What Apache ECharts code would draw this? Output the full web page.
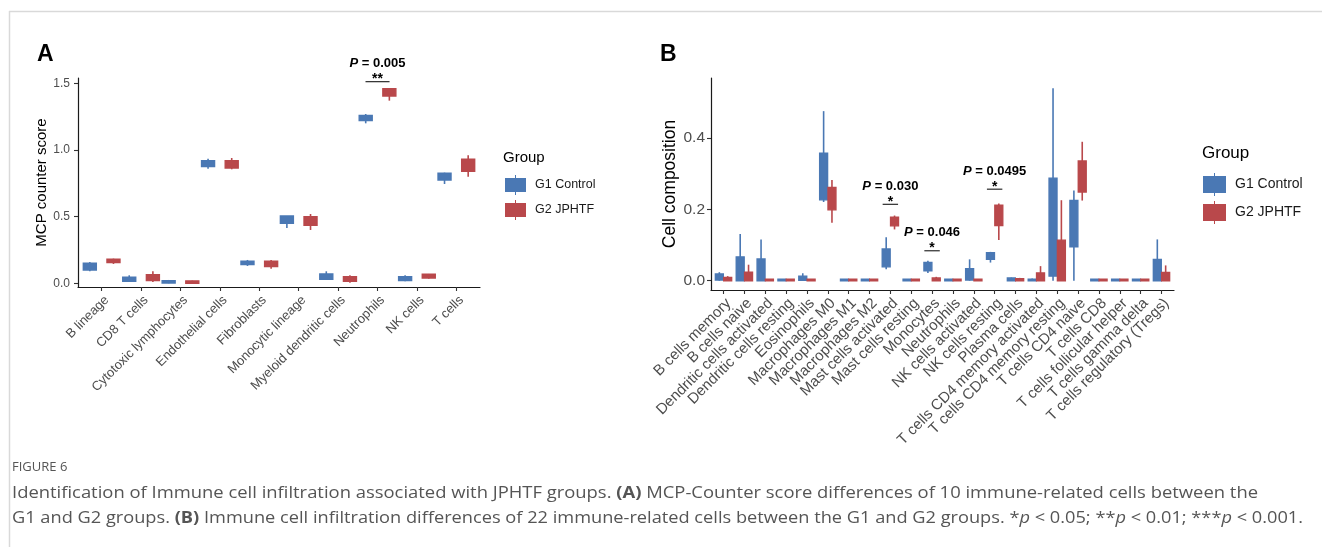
<!DOCTYPE html>
<html>
<head>
<meta charset="utf-8">
<script src="https://cdn.jsdelivr.net/npm/echarts@6/dist/echarts.min.js"></script>
<style>
html,body{margin:0;padding:0;background:#fff;}
#chart{width:1322px;height:547px;}
</style>
</head>
<body>
<div id="chart"></div>
<script>
// ---------------- DATA ----------------
const mcpCats = ['B lineage','CD8 T cells','Cytotoxic lymphocytes','Endothelial cells','Fibroblasts','Monocytic lineage','Myeloid dendritic cells','Neutrophils','NK cells','T cells'];
// each entry: [lower whisker, Q1, Q3, upper whisker]
const mcpG1 = [
  [0.09, 0.10, 0.15, 0.16],
  [0.01, 0.015, 0.045, 0.06],
  [0.0, 0.002, 0.02, 0.025],
  [0.86, 0.875, 0.92, 0.935],
  [0.13, 0.14, 0.165, 0.175],
  [0.415, 0.45, 0.505, 0.505],
  [0.025, 0.03, 0.07, 0.09],
  [1.20, 1.22, 1.26, 1.27],
  [0.015, 0.02, 0.05, 0.06],
  [0.745, 0.775, 0.825, 0.83]
];
const mcpG2 = [
  [0.145, 0.155, 0.18, 0.185],
  [0.01, 0.02, 0.065, 0.09],
  [0.0, 0.0, 0.018, 0.02],
  [0.855, 0.865, 0.92, 0.94],
  [0.11, 0.125, 0.165, 0.175],
  [0.40, 0.435, 0.50, 0.52],
  [0.005, 0.015, 0.05, 0.06],
  [1.37, 1.405, 1.46, 1.465],
  [0.035, 0.04, 0.0675, 0.07],
  [0.80, 0.84, 0.93, 0.96]
];
const mcpTicks = [0, 0.5, 1.0, 1.5];
const mcpSigIdx = [7];
const mcpSigY = [1.512];
const mcpSigP = ['0.005'];
const mcpSigStars = ['**'];

const ciberCats = ['B cells memory','B cells naive','Dendritic cells activated','Dendritic cells resting','Eosinophils','Macrophages M0','Macrophages M1','Macrophages M2','Mast cells activated','Mast cells resting','Monocytes','Neutrophils','NK cells activated','NK cells resting','Plasma cells','T cells CD4 memory activated','T cells CD4 memory resting','T cells CD4 naive','T cells CD8','T cells follicular helper','T cells gamma delta','T cells regulatory (Tregs)'];
const ciberG1 = [
  [0, 0.002, 0.019, 0.024],
  [0, 0, 0.067, 0.131],
  [0, 0, 0.061, 0.116],
  [0, 0, 0.004, 0.004],
  [0, 0.001, 0.013, 0.021],
  [0.221, 0.227, 0.358, 0.476],
  [0, 0, 0.004, 0.004],
  [0, 0, 0.004, 0.004],
  [0.032, 0.039, 0.089, 0.122],
  [0, 0, 0.004, 0.004],
  [0.022, 0.028, 0.051, 0.056],
  [0, 0, 0.004, 0.004],
  [0, 0.002, 0.034, 0.060],
  [0.051, 0.060, 0.079, 0.081],
  [0, 0, 0.0075, 0.009],
  [0, 0, 0.004, 0.006],
  [0, 0.013, 0.288, 0.540],
  [0, 0.0955, 0.225, 0.253],
  [0, 0, 0.004, 0.004],
  [0, 0, 0.004, 0.004],
  [0, 0, 0.004, 0.004],
  [0, 0, 0.060, 0.116]
];
const ciberG2 = [
  [0, 0, 0.009, 0.013],
  [0, 0, 0.024, 0.045],
  [0, 0, 0.004, 0.004],
  [0, 0, 0.004, 0.004],
  [0, 0, 0.004, 0.004],
  [0.163, 0.199, 0.262, 0.283],
  [0, 0, 0.004, 0.004],
  [0, 0, 0.004, 0.004],
  [0.144, 0.154, 0.178, 0.183],
  [0, 0, 0.004, 0.004],
  [0, 0, 0.0075, 0.011],
  [0, 0, 0.004, 0.004],
  [0, 0, 0.004, 0.004],
  [0.114, 0.155, 0.212, 0.217],
  [0, 0, 0.006, 0.008],
  [0, 0, 0.022, 0.041],
  [0, 0, 0.114, 0.226],
  [0.225, 0.249, 0.336, 0.390],
  [0, 0, 0.004, 0.004],
  [0, 0, 0.004, 0.004],
  [0, 0, 0.004, 0.004],
  [0, 0, 0.023, 0.043]
];
const ciberTicks = [0, 0.2, 0.4];
const ciberSigIdx = [8, 10, 13];
const ciberSigY = [0.2146, 0.084, 0.257];
const ciberSigP = ['0.030', '0.046', '0.0495'];
const ciberSigStars = ['*', '*', '*'];

const groupNames = ['G1 Control', 'G2 JPHTF'];

// ---------------- STYLE ----------------
const FONT = "'Liberation Sans', Arial, sans-serif";
const CAPFONT = "'Open Sans', 'Noto Sans', sans-serif";
const BLUE = '#4A78B4', RED = '#B9484B';

// category-like value axis; labelIdx = which category labels this axis shows
function catAxis(gi, cats, fs, shift, margin, labelIdx, showLine) {
  const idx = cats.map((c, i) => i);
  return {
    type: 'value', gridIndex: gi, position: 'bottom', offset: 0, min: -0.6, max: cats.length - 1 + 0.6,
    axisLine: {show: showLine, onZero: false, lineStyle: {color: '#1a1a1a', width: 1.2}},
    axisTick: {show: showLine, length: 4, customValues: idx, lineStyle: {color: '#333', width: 1.1}},
    axisLabel: {
      customValues: labelIdx.map(i => i + shift),
      formatter: v => cats[Math.round(v - shift)],
      showMinLabel: true, showMaxLabel: true, hideOverlap: false,
      rotate: 45, fontSize: fs, color: '#4d4d4d', margin: margin, fontFamily: FONT
    },
    splitLine: {show: false}
  };
}
function valAxis(gi, min, max, ticks, fs, margin, name, nfs, gap) {
  return {
    type: 'value', gridIndex: gi, min: min, max: max,
    axisLine: {show: true, onZero: false, lineStyle: {color: '#1a1a1a', width: 1.2}},
    axisTick: {show: true, length: 4, customValues: ticks, lineStyle: {color: '#333', width: 1.1}},
    axisLabel: {customValues: ticks, formatter: v => v.toFixed(1), fontSize: fs, color: '#4d4d4d', margin: margin, fontFamily: FONT},
    splitLine: {show: false},
    name: name, nameLocation: 'middle', nameRotate: 90, nameGap: gap,
    nameTextStyle: {fontSize: nfs, color: '#000', fontFamily: FONT}
  };
}
function boxSeries(name, xi, yi, data, offset, width, color) {
  return {
    type: 'custom', name: name, xAxisIndex: xi, yAxisIndex: yi, clip: false,
    itemStyle: {color: color},
    encode: {x: 0, y: [1, 2, 3, 4]},
    data: data.map((d, i) => [i, d[0], d[1], d[2], d[3]]),
    renderItem: function (params, api) {
      const x = api.value(0) + offset;
      const lo = api.coord([x, api.value(1)]);
      const q1 = api.coord([x, api.value(2)]);
      const q3 = api.coord([x, api.value(3)]);
      const hi = api.coord([x, api.value(4)]);
      const w = api.size([width, 0])[0];
      return {type: 'group', children: [
        {type: 'line', shape: {x1: lo[0], y1: lo[1], x2: hi[0], y2: hi[1]}, style: {stroke: color, lineWidth: 1.6}},
        {type: 'rect', shape: {x: q3[0] - w / 2, y: q3[1], width: w, height: q1[1] - q3[1]},
          style: {fill: color, stroke: color, lineWidth: 1.4}}
      ]};
    }
  };
}
function sigSeries(xi, yi, idx, ys, ps, stars, halfW) {
  return {
    type: 'custom', xAxisIndex: xi, yAxisIndex: yi, clip: false, silent: true,
    encode: {x: 0, y: 1},
    data: idx.map((c, k) => [c, ys[k]]),
    renderItem: function (params, api) {
      const k = params.dataIndex;
      const c = api.coord([api.value(0), api.value(1)]);
      const h = api.size([halfW, 0])[0];
      return {type: 'group', children: [
        {type: 'line', shape: {x1: c[0] - h, y1: c[1], x2: c[0] + h, y2: c[1]}, style: {stroke: '#000', lineWidth: 1}},
        {type: 'text', x: c[0], y: c[1] - 2.5, style: {text: stars[k], fontSize: 14, fontWeight: 'bold', fontFamily: FONT, fill: '#000', align: 'center', verticalAlign: 'middle'}},
        {type: 'text', x: c[0], y: c[1] - 18, style: {
          text: '{i|P}{n| = ' + ps[k] + '}',
          rich: {
            i: {fontStyle: 'italic', fontWeight: 'bold', fontSize: 13, fontFamily: FONT, fill: '#000'},
            n: {fontWeight: 'bold', fontSize: 13, fontFamily: FONT, fill: '#000'}
          },
          fontSize: 13, fontWeight: 'bold', fontFamily: FONT, fill: '#000', align: 'center', verticalAlign: 'middle'}}
      ]};
    }
  };
}

// caption helpers
const cap1 = [['Identification of Immune cell infiltration associated with JPHTF groups. ', 'n'], ['(A)', 'b'], [' MCP-Counter score differences of 10 immune-related cells between the', 'n']];
const cap2 = [['G1 and G2 groups. ', 'n'], ['(B)', 'b'], [' Immune cell infiltration differences of 22 immune-related cells between the G1 and G2 groups. *', 'n'], ['p', 'i'], [' < 0.05; **', 'n'], ['p', 'i'], [' < 0.01; ***', 'n'], ['p', 'i'], [' < 0.001.', 'n']];
const CAPSIZE = 16;
const ctx = document.createElement('canvas').getContext('2d');
function segFont(s) {
  return (s === 'i' ? 'italic ' : '') + (s === 'b' ? 'bold ' : '') + CAPSIZE + 'px ' + CAPFONT;
}
function measure(segs) {
  let w = 0;
  segs.forEach(([t, s]) => { ctx.font = segFont(s); w += ctx.measureText(t).width; });
  return w;
}
function richStr(segs) { return segs.map(([t, s]) => '{' + s + '|' + t + '}').join(''); }
const capRich = {
  n: {fontSize: CAPSIZE, fontFamily: CAPFONT, fill: '#555'},
  b: {fontSize: CAPSIZE, fontFamily: CAPFONT, fontWeight: 'bold', fill: '#555'},
  i: {fontSize: CAPSIZE, fontFamily: CAPFONT, fontStyle: 'italic', fill: '#555'}
};
function capText(segs, x, y, targetW) {
  const w = measure(segs);
  return {type: 'text', x: x, y: y, scaleX: targetW / w, style: {
    text: richStr(segs), rich: capRich, fontSize: CAPSIZE, fontFamily: CAPFONT, fill: '#555',
    align: 'left', verticalAlign: 'middle', textAlign: 'left', textVerticalAlign: 'middle'}};
}
function label(txt, x, y, fs, bold, align) {
  return {type: 'text', x: x, y: y, style: {text: txt, fontSize: fs, fontWeight: bold ? 'bold' : 'normal', fontFamily: FONT, fill: '#000',
    align: align || 'left', verticalAlign: 'middle', textAlign: align || 'left', textVerticalAlign: 'middle'}};
}

const iconA = 'path://M0,3L21,3L21,17L0,17Z M10,0L11,0L11,3L10,3Z M10,17L11,17L11,20L10,20Z';
const iconB = 'path://M0,3L23,3L23,20L0,20Z M11,0L12,0L12,3L11,3Z M11,20L12,20L12,23L11,23Z';

const mcpAll = mcpCats.map((c, i) => i);
const ciberEven = ciberCats.map((c, i) => i).filter(i => i % 2 === 0);
const ciberOdd = ciberCats.map((c, i) => i).filter(i => i % 2 === 1);

const option = {
  animation: false,
  backgroundColor: '#fff',
  textStyle: {fontFamily: FONT},
  grid: [
    {left: 78, top: 78, width: 402, height: 209},
    {left: 711, top: 78, width: 463, height: 212}
  ],
  xAxis: [
    catAxis(0, mcpCats, 13, 0.13, 11, mcpAll, true),
    catAxis(1, ciberCats, 15, 0.25, 11, ciberEven, true),
    catAxis(1, ciberCats, 15, 0.25, 11, ciberOdd, false)
  ],
  yAxis: [
    valAxis(0, -0.0278, 1.54, mcpTicks, 12, 8, 'MCP counter score', 15, 22),
    valAxis(1, -0.026, 0.569, ciberTicks, 15.5, 6, 'Cell composition', 17.5, 27)
  ],
  legend: [
    {left: 505, top: 175, orient: 'vertical', itemWidth: 21, itemHeight: 20, itemGap: 5, padding: 0, icon: iconA, selectedMode: false,
      data: [{name: groupNames[0], itemStyle: {color: BLUE}}, {name: groupNames[1], itemStyle: {color: RED}}],
      textStyle: {fontSize: 12.5, color: '#1a1a1a', fontFamily: FONT, padding: [0, 0, 0, 4]}},
    {left: 1203, top: 173, orient: 'vertical', itemWidth: 23, itemHeight: 23, itemGap: 5, padding: 0, icon: iconB, selectedMode: false,
      data: [{name: groupNames[0], itemStyle: {color: BLUE}}, {name: groupNames[1], itemStyle: {color: RED}}],
      textStyle: {fontSize: 14, color: '#1a1a1a', fontFamily: FONT, padding: [0, 0, 0, 4]}}
  ],
  graphic: [
    {type: 'line', shape: {x1: 9, y1: 11.5, x2: 1322, y2: 11.5}, style: {stroke: '#d9d9d9', lineWidth: 1.5}},
    {type: 'line', shape: {x1: 9.5, y1: 11, x2: 9.5, y2: 547}, style: {stroke: '#d9d9d9', lineWidth: 1.5}},
    label('A', 37, 55, 23, true),
    label('B', 660, 55, 23, true),
    label('Group', 503, 158, 15, false),
    label('Group', 1202, 153, 17, false),
    {type: 'text', x: 12, y: 467, style: {text: 'FIGURE 6', fontSize: 13, fontFamily: CAPFONT, fill: '#555', align: 'left', verticalAlign: 'middle', textAlign: 'left', textVerticalAlign: 'middle'}},
    capText(cap1, 12, 493, 1246),
    capText(cap2, 12, 518, 1291)
  ],
  series: [
    boxSeries(groupNames[0], 0, 0, mcpG1, -0.3, 0.33, BLUE),
    boxSeries(groupNames[1], 0, 0, mcpG2, 0.3, 0.33, RED),
    sigSeries(0, 0, mcpSigIdx, mcpSigY, mcpSigP, mcpSigStars, 0.305),
    boxSeries(groupNames[0], 1, 1, ciberG1, -0.2, 0.38, BLUE),
    boxSeries(groupNames[1], 1, 1, ciberG2, 0.2, 0.38, RED),
    sigSeries(1, 1, ciberSigIdx, ciberSigY, ciberSigP, ciberSigStars, 0.37)
  ]
};
const chart = echarts.init(document.getElementById('chart'), null, {renderer: 'canvas'});
chart.setOption(option);
</script>
</body>
</html>
